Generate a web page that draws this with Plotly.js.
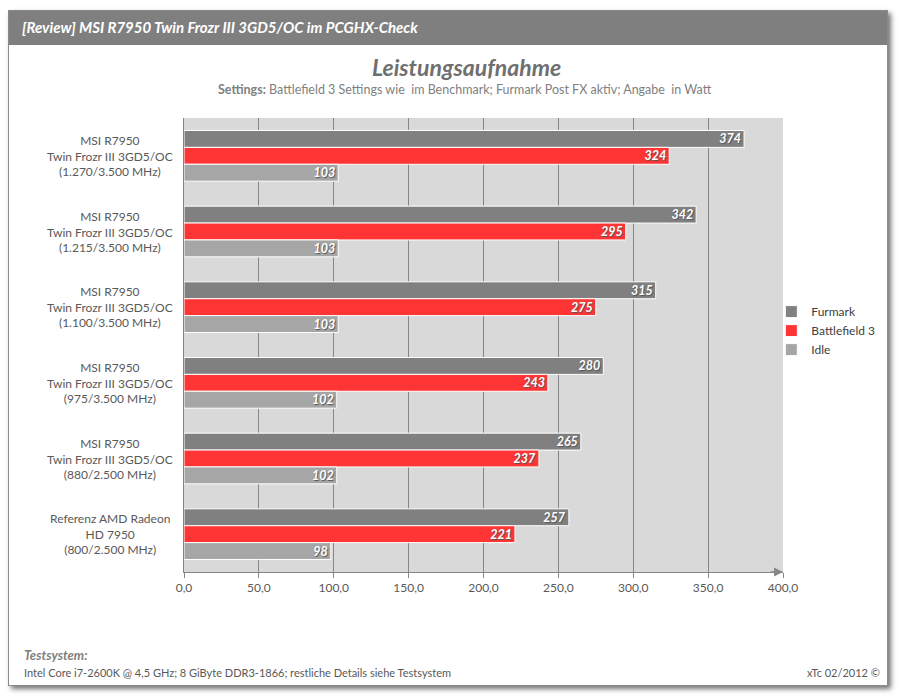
<!DOCTYPE html>
<html><head><meta charset="utf-8">
<script src="https://cdn.plot.ly/plotly-3.0.1.min.js"></script>
<style>
html,body{margin:0;padding:0;background:#fff;}
#frame{position:absolute;left:8px;top:10px;width:878px;height:674px;border:1px solid #8a8a8a;box-shadow:3px 3px 5px rgba(0,0,0,0.55);background:#fff;}
#hdr{position:absolute;left:0;top:0;width:878px;height:34px;background:#7f7f7f;}
#chart{position:absolute;left:0;top:0;width:899px;height:696px;}
</style></head>
<body>
<div id="frame"><div id="hdr"></div></div>
<div id="chart"></div>
<script>
var categories = [
  "MSI R7950<br>Twin Frozr III 3GD5/OC<br>(1.270/3.500 MHz)",
  "MSI R7950<br>Twin Frozr III 3GD5/OC<br>(1.215/3.500 MHz)",
  "MSI R7950<br>Twin Frozr III 3GD5/OC<br>(1.100/3.500 MHz)",
  "MSI R7950<br>Twin Frozr III 3GD5/OC<br>(975/3.500 MHz)",
  "MSI R7950<br>Twin Frozr III 3GD5/OC<br>(880/2.500 MHz)",
  "Referenz AMD Radeon<br>HD 7950<br>(800/2.500 MHz)"
];
var seriesNames = ["Furmark", "Battlefield 3", "Idle"];
var furmark = [374, 342, 315, 280, 265, 257];
var battlefield = [324, 295, 275, 243, 237, 221];
var idle = [103, 103, 103, 102, 102, 98];
var xTicks = [0, 50, 100, 150, 200, 250, 300, 350, 400];

var colors = ["#808080", "#ff3535", "#a6a6a6"];
var font = "Lato, 'Open Sans', sans-serif";

function mk(vals, i) {
  return {
    type: "bar", orientation: "h", name: seriesNames[i],
    y: categories, x: vals,
    text: vals.map(String), textposition: "inside", insidetextanchor: "end", textangle: 0,
    constraintext: "none", cliponaxis: false,
    textfont: {family: font, size: 12.5, color: "#ffffff", weight: "bold", style: "italic", shadow: "1px 1px 1px #555"},
    marker: {color: colors[i], line: {color: "#ffffff", width: 1}},
    hoverinfo: "x+name"
  };
}
var data = [mk(furmark, 0), mk(battlefield, 1), mk(idle, 2)];

var annotations = categories.map(function (c) {
  return {xref: "paper", yref: "y", x: -0.123, y: c, text: c, showarrow: false,
    xanchor: "center", yanchor: "middle", align: "center",
    font: {family: font, size: 12, color: "#595959"}};
});
annotations.push(
  {xref: "paper", yref: "paper", x: -0.2738, y: 1.2004, xanchor: "left", yanchor: "middle", showarrow: false,
   text: "[Review] MSI R7950 Twin Frozr III 3GD5/OC im PCGHX-Check",
   font: {family: font, size: 15, color: "#ffffff", weight: "bold", style: "italic"}},
  {xref: "paper", yref: "paper", x: 0.471, y: 1.1123, xanchor: "center", yanchor: "middle", showarrow: false,
   text: "Leistungsaufnahme",
   font: {family: font, size: 23, color: "#6f6f6f", weight: "bold", style: "italic"}},
  {xref: "paper", yref: "paper", x: 0.469, y: 1.0617, xanchor: "center", yanchor: "middle", showarrow: false,
   text: "<b>Settings:</b> Battlefield 3 Settings wie  im Benchmark; Furmark Post FX aktiv; Angabe  in Watt",
   font: {family: font, size: 12.5, color: "#7f7f7f"}},
  {xref: "paper", yref: "paper", x: -0.2705, y: -0.1828, xanchor: "left", yanchor: "middle", showarrow: false,
   text: "Testsystem:",
   font: {family: font, size: 13, color: "#7f7f7f", weight: "bold", style: "italic"}},
  {xref: "paper", yref: "paper", x: -0.2705, y: -0.2203, xanchor: "left", yanchor: "middle", showarrow: false,
   text: "Intel Core i7-2600K @ 4,5 GHz; 8 GiByte DDR3-1866; restliche Details siehe Testsystem",
   font: {family: font, size: 11, color: "#595959"}},
  {xref: "paper", yref: "paper", x: 1.1653, y: -0.2203, xanchor: "right", yanchor: "middle", showarrow: false,
   text: "xTc 02/2012 ©",
   font: {family: font, size: 11, color: "#595959"}},
  {xref: "x", yref: "paper", x: 400, y: 0, ax: -14, ay: 0, showarrow: true,
   arrowhead: 2, arrowsize: 1.2, arrowwidth: 1.5, arrowcolor: "#868686", text: ""}
);

var layout = {
  width: 899, height: 696,
  margin: {l: 184, r: 116, t: 118, b: 124, autoexpand: false},
  paper_bgcolor: "rgba(0,0,0,0)", plot_bgcolor: "#d9d9d9",
  separators: ",.",
  barmode: "group", bargap: 0.33, bargroupgap: 0,
  showlegend: true,
  legend: {xref: "container", yref: "container", x: 0.858, y: 0.525, xanchor: "left", yanchor: "middle", traceorder: "normal",
    font: {family: font, size: 12, color: "#404040"}, bgcolor: "rgba(0,0,0,0)", itemwidth: 30, tracegroupgap: 0},
  xaxis: {range: [0, 400], tickvals: xTicks, tickformat: ".1f", showgrid: true, gridcolor: "#868686", gridwidth: 1,
    showline: true, linecolor: "#868686", linewidth: 1, ticks: "outside", ticklen: 5, tickcolor: "#868686",
    tickfont: {family: font, size: 12, color: "#595959"}, zeroline: false, fixedrange: true, automargin: false},
  yaxis: {type: "category", autorange: "reversed", showticklabels: false, showgrid: false,
    showline: true, linecolor: "#868686", mirror: false, ticks: "", zeroline: false, fixedrange: true, automargin: false},
  annotations: annotations,
  font: {family: font}
};
Plotly.newPlot("chart", data, layout, {displayModeBar: false, staticPlot: true});
</script>
</body></html>
